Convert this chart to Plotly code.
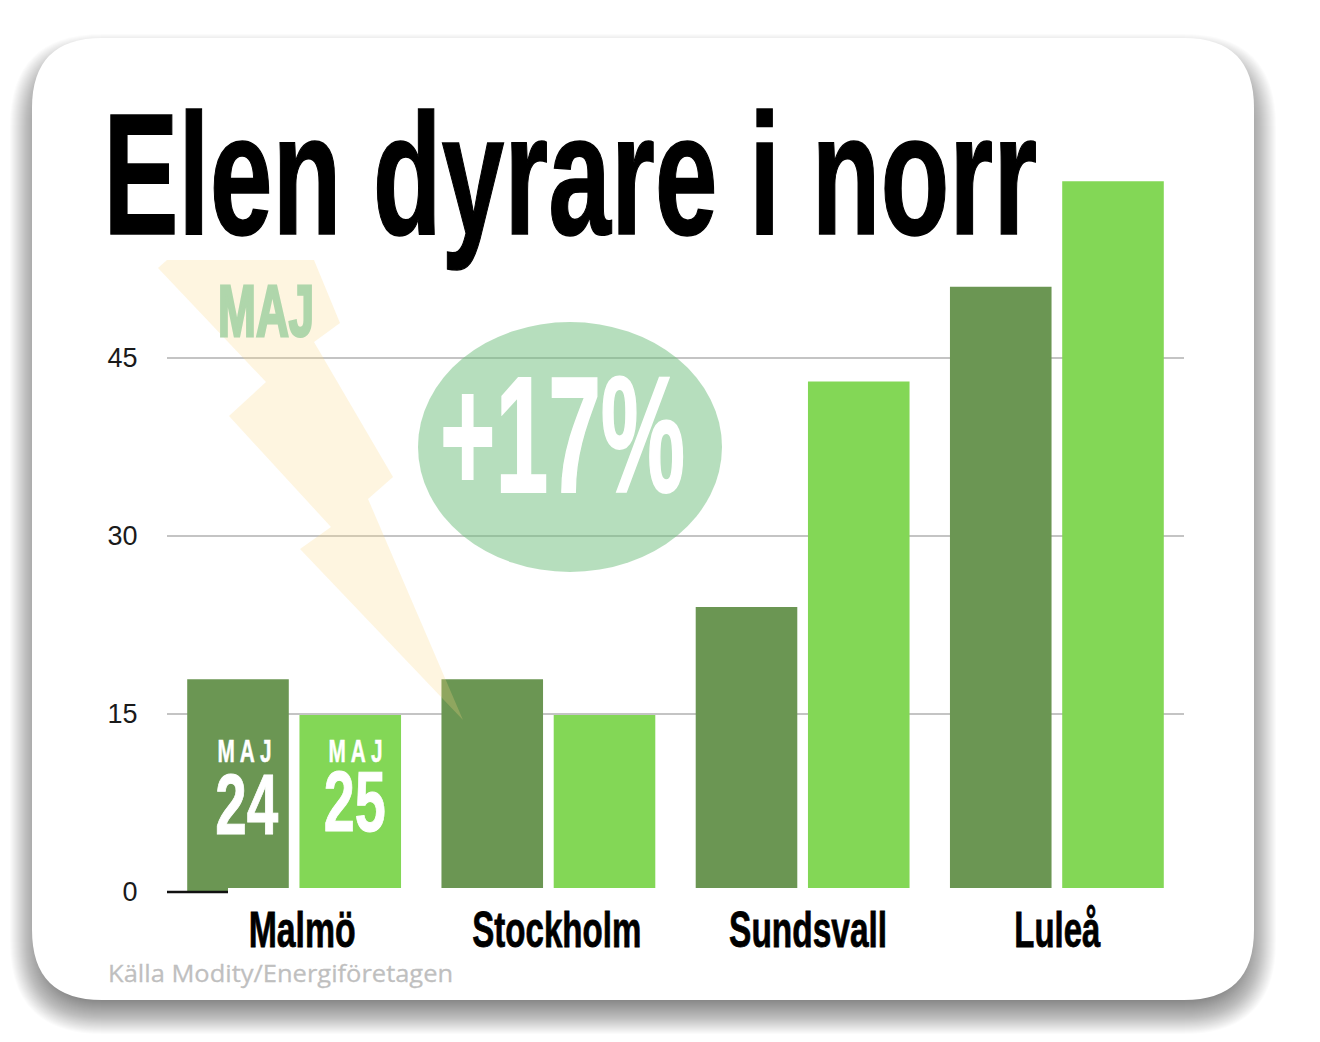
import json
import plotly.graph_objects as go

WIDTH = 1320
HEIGHT = 1042

cities = ["Malmö", "Stockholm", "Sundsvall", "Luleå"]
may_24 = [17.9, 17.9, 24.0, 51.0]
may_25 = [14.9, 14.9, 43.0, 59.9]
y_ticks = [0, 15, 30, 45, 60]
y_tick_labels = ["0", "15", "30", "45", ""]  # the 60 sits behind the title

title = "Elen dyrare i norr"
increase = "+17%"
source = "Källa Modity/Energiföretagen"

DARK = "#6b9653"
LIGHT = "#83d756"
FONT = "Liberation Sans"


def px(x):
    return x / WIDTH


def py(y):
    return 1 - y / HEIGHT


def rounded_rect(x0, y0, x1, y1, r):
    return (
        f"M {px(x0 + r)} {py(y0)} L {px(x1 - r)} {py(y0)} "
        f"Q {px(x1)} {py(y0)} {px(x1)} {py(y0 + r)} L {px(x1)} {py(y1 - r)} "
        f"Q {px(x1)} {py(y1)} {px(x1 - r)} {py(y1)} L {px(x0 + r)} {py(y1)} "
        f"Q {px(x0)} {py(y1)} {px(x0)} {py(y1 - r)} L {px(x0)} {py(y0 + r)} "
        f"Q {px(x0)} {py(y0)} {px(x0 + r)} {py(y0)} Z"
    )


fig = go.Figure()
fig.add_trace(go.Bar(x=cities, y=may_24, name="Maj 24", marker_color=DARK, marker_line_width=0))
fig.add_trace(go.Bar(x=cities, y=may_25, name="Maj 25", marker_color=LIGHT, marker_line_width=0))

shapes = []

# soft drop shadow, stacked see-through rounded rectangles
for grow in range(22, -12, -1):
    shapes.append(dict(
        type="path", xref="paper", yref="paper", layer="below",
        path=rounded_rect(32 - grow, 56 - grow, 1254 + grow, 1012 + grow, 70 + grow),
        fillcolor="rgba(0,0,0,0.014)", line_width=0,
    ))

# the card
shapes.append(dict(
    type="path", xref="paper", yref="paper", layer="below",
    path=rounded_rect(32, 38, 1254, 1000, 70),
    fillcolor="white", line_width=0,
))

# bars stop a little above the zero line in the original
shapes.append(dict(type="rect", xref="paper", yref="paper", layer="above",
                   x0=px(228), x1=px(1190), y0=py(888), y1=py(895),
                   fillcolor="white", line_width=0))
shapes.append(dict(type="line", xref="paper", yref="paper", layer="above",
                   x0=px(167), x1=px(228), y0=py(892), y1=py(892),
                   line=dict(color="#111111", width=2.5)))

# lightning bolt
bolt = [(167, 260), (314, 260), (340, 323), (314, 342), (393, 477), (368, 499),
        (463, 720), (300, 549), (331, 527), (229, 416), (266, 382), (158, 268)]
bolt_path = "M " + " L ".join(f"{px(x)} {py(y)}" for x, y in bolt) + " Z"
shapes.append(dict(type="path", xref="paper", yref="paper", layer="above", path=bolt_path,
                   fillcolor="rgba(250,215,130,0.25)", line_width=0))

# ellipse behind +17%
shapes.append(dict(type="circle", xref="paper", yref="paper", layer="above",
                   x0=px(418), x1=px(722), y0=py(322), y1=py(572),
                   fillcolor="rgba(109,189,123,0.5)", line_width=0))

# text, size, colour, centre x, centre y, width to squeeze to, extra stroke
labels = [
    (title, 172, "black", 570, 174, 934, 1.5),
    ("MAJ", 72, "#afd6ab", 265.5, 311, 96, 3),
    (increase, 166, "white", 562.5, 435, 245, 2),
    ("M A J", 32, "white", 244.5, 751, 54, 0.5),
    ("M A J", 32, "white", 355.5, 751, 54, 0.5),
    ("24", 86, "white", 246.5, 804, 63, 1),
    ("25", 86, "white", 355, 801, 62, 1),
    (cities[0], 50, "black", 301.5, 930, 107, 0.8),
    (cities[1], 50, "black", 556.5, 930, 169, 0.8),
    (cities[2], 50, "black", 808, 930, 158, 0.8),
    (cities[3], 50, "black", 1057, 930, 86, 0.8),
]

annotations = []
for text, size, color, x, y, _, _ in labels:
    annotations.append(dict(
        text=text, xref="paper", yref="paper", x=px(x), y=py(y), showarrow=False,
        xanchor="center", yanchor="middle",
        font=dict(family=FONT, size=size, color=color, weight="bold"),
    ))
annotations.append(dict(
    text=source, xref="paper", yref="paper", x=px(280.5), y=py(972), showarrow=False,
    xanchor="center", yanchor="middle",
    font=dict(family="Open Sans", size=24, color="#bfbfbf"),
))

fig.update_layout(
    width=WIDTH,
    height=HEIGHT,
    margin=dict(l=0, r=0, t=0, b=0),
    paper_bgcolor="white",
    plot_bgcolor="rgba(0,0,0,0)",
    barmode="group",
    bargap=0.117,
    bargroupgap=0.095,
    showlegend=False,
    shapes=shapes,
    annotations=annotations,
)
fig.update_xaxes(domain=[px(167), px(1184)], showticklabels=False, showgrid=False,
                 zeroline=False, showline=False, ticks="", automargin=False)
fig.update_yaxes(
    domain=[py(891.6), py(180)], range=[0, 60], tickvals=y_ticks, ticktext=y_tick_labels,
    showgrid=True, gridcolor="#c4c4c4", gridwidth=1.5, zeroline=False, showline=False,
    ticks="outside", ticklen=23, tickcolor="rgba(0,0,0,0)", automargin=False,
    tickfont=dict(family="Liberation Sans", size=27, color="#1a1a1a"),
)

# the original type is condensed, squeeze each label to its measured width
widths = [row[5] for row in labels] + [345]
strokes = [row[6] for row in labels] + [0.3]
post_script = """
document.body.style.margin = '0';
var widths = %s;
var strokes = %s;
document.querySelectorAll('.annotation-text').forEach(function (el, i) {
    el.setAttribute('textLength', widths[i]);
    el.setAttribute('lengthAdjust', 'spacingAndGlyphs');
    el.style.stroke = el.style.fill;
    el.style.strokeWidth = strokes[i] + 'px';
});
""" % (json.dumps(widths), json.dumps(strokes))

fig.write_html("out.html", post_script=post_script, config={"displayModeBar": False})
